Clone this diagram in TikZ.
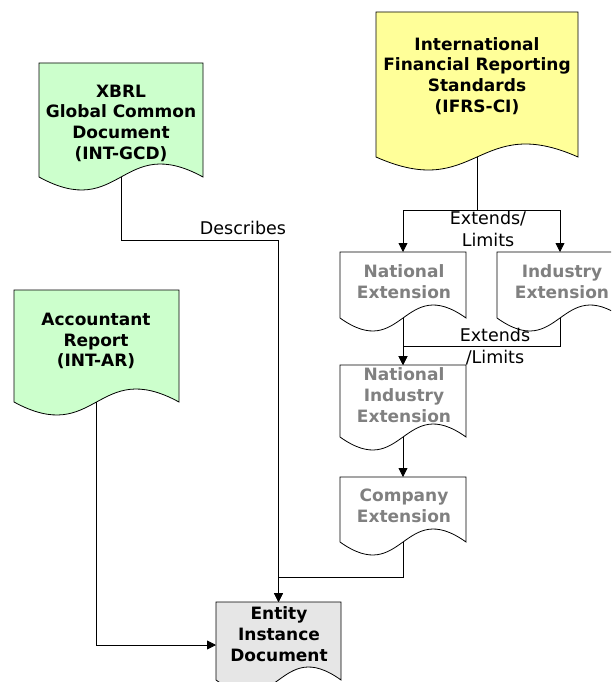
\documentclass[tikz,border=0pt]{standalone}
\usepackage{fontspec}
\setmainfont{DejaVu Sans}
\usetikzlibrary{arrows.meta}
\definecolor{docgreen}{HTML}{CCFFCC}
\definecolor{docyellow}{HTML}{FFFF99}
\definecolor{docgray}{HTML}{E6E6E6}
\definecolor{txtgray}{HTML}{808080}
\tikzset{
  docline/.style={draw=black, line width=0.8pt},
  boxtext/.style={align=center, inner sep=0pt, font=\fontsize{17}{20.7}\selectfont\bfseries},
  greytext/.style={boxtext, text=txtgray},
  lbl/.style={inner sep=0pt, anchor=base, font=\fontsize{17.5}{21}\selectfont},
  conn/.style={draw=black, line width=0.8pt},
  arr/.style={conn, -{Triangle[length=9pt,width=9pt]}}
}
\newcommand\docshape[6]{%
  \filldraw[docline, fill=#6] (#2,#3) -- (#4,#3) -- (#4,#5)
    .. controls ({(#2+#4)/2},{#5-45}) and ({(#2+#4)/2},{#5+45}) .. (#2,#5) -- cycle;
  \coordinate (#1-n) at ({(#2+#4)/2},#3);
  \coordinate (#1-s) at ({(#2+#4)/2},#5);
}
\begin{document}
\begin{tikzpicture}[x=1pt,y=-1pt]
\clip (0,0) rectangle (611,682);
\fill[white] (0,0) rectangle (611,682);

% document shapes
\docshape{xbrl}{39}{63}{203}{177}{docgreen}
\docshape{ifrs}{376}{12}{578}{157}{docyellow}
\docshape{natext}{340}{252}{466}{318}{white}
\docshape{indext}{497}{252}{623}{318}{white}
\docshape{nie}{340}{365}{466}{437}{white}
\docshape{comp}{340}{477}{466}{542}{white}
\docshape{acct}{14}{290}{179}{402}{docgreen}
\docshape{entity}{216}{602}{341}{680}{docgray}
\coordinate (entity-w) at (216,645);

% texts
\node[boxtext] (xbrl) at (121,123) {XBRL\\Global Common\\Document\\(INT-GCD)};
\node[boxtext] (ifrs) at (477,76) {International\\Financial Reporting\\Standards\\(IFRS-CI)};
\node[greytext] (natext) at (404,282) {National\\Extension};
\node[greytext] (indext) at (562,282) {Industry\\Extension};
\node[greytext] (nie) at (404,395) {National\\Industry\\Extension};
\node[greytext] (comp) at (404,506) {Company\\Extension};
\node[boxtext] (acct) at (96,341) {Accountant\\Report\\(INT-AR)};
\node[boxtext] (entity) at (279,634) {Entity\\Instance\\Document};

% connectors
\draw[arr] (xbrl-s) -- ++(0,63) -| (entity-n);
\draw[arr] (comp-s) -- ++(0,35) -| (entity-n);
\draw[arr] (acct-s) |- (entity-w);
\draw[arr] (ifrs-s) -- ++(0,53) -| (natext-n);
\draw[arr] (ifrs-s) -- ++(0,53) -| (indext-n);
\draw[arr] (natext-s) -- (nie-n);
\draw[arr] (indext-s) -- ++(0,28) -| (nie-n);
\draw[arr] (nie-s) -- (comp-n);

% labels
\node[lbl] (describes) at (243,234) {Describes};
\node[lbl] (ext1a) at (488,224) {Extends/};
\node[lbl] (ext1b) at (488,246) {Limits};
\node[lbl] (ext2a) at (495,341) {Extends};
\node[lbl] (ext2b) at (495,363) {/Limits};
\end{tikzpicture}
\end{document}
